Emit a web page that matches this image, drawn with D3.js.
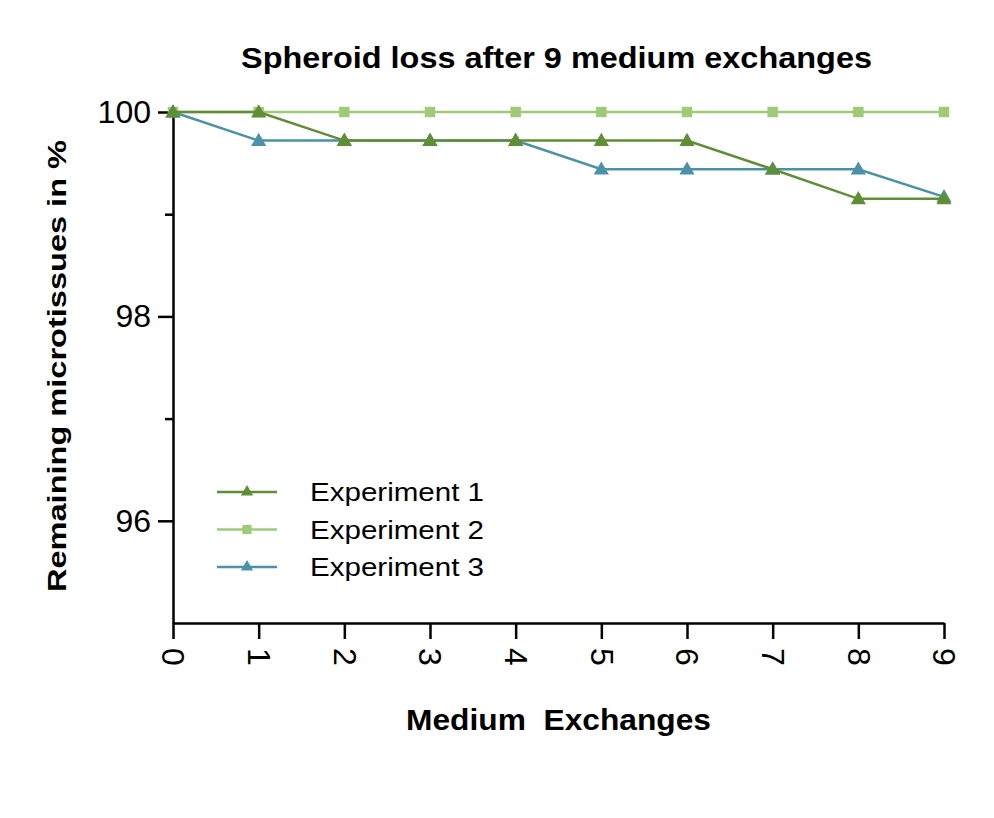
<!DOCTYPE html>
<html lang="en">
<head>
<meta charset="utf-8">
<script src="https://d3js.org/d3.v7.min.js"></script>
<title>Spheroid loss</title>
<style>
  body { margin: 0; background: #fff; }
</style>
</head>
<body>
<script type="text/javascript">

  // data
  var exchanges = [0, 1, 2, 3, 4, 5, 6, 7, 8, 9];
  var exp1 = [100, 100, 99.72, 99.72, 99.72, 99.72, 99.72, 99.44, 99.15, 99.15];
  var exp2 = [100, 100, 100, 100, 100, 100, 100, 100, 100, 100];
  var exp3 = [100, 99.72, 99.72, 99.72, 99.72, 99.44, 99.44, 99.44, 99.44, 99.17];
  var seriesNames = ["Experiment 1", "Experiment 2", "Experiment 3"];
  var yMajorTicks = [96, 98, 100];
  var yMinorTicks = [97, 99];

  var series = [
    {name: seriesNames[0], values: exp1, color: "#5f8e35", shape: "triangle"},
    {name: seriesNames[1], values: exp2, color: "#9fcb79", shape: "square"},
    {name: seriesNames[2], values: exp3, color: "#4a92a8", shape: "triangle"}
  ];

  var width = 994, height = 818;
  var font = "Liberation Sans, Arial, sans-serif";

  var svg = d3.select("body").append("svg")
    .attr("width", width)
    .attr("height", height);

  var x = d3.scaleLinear().domain([0, 9]).range([173, 944]);
  var y = d3.scaleLinear().domain([95, 100]).range([623, 112]);

  // y axis
  var yAxis = svg.append("g")
    .attr("transform", "translate(173,0)")
    .call(d3.axisLeft(y).tickValues(yMajorTicks).tickFormat(d3.format("d"))
      .tickSize(15).tickPadding(7).tickSizeOuter(0));
  yAxis.select(".domain").attr("stroke", "#000").attr("stroke-width", 2.5);
  yAxis.selectAll(".tick line").attr("stroke", "#000").attr("stroke-width", 2.5);
  yAxis.selectAll(".tick text")
    .attr("font-family", font)
    .attr("font-size", 32)
    .attr("fill", "#000");

  var yMinor = svg.append("g")
    .attr("transform", "translate(173,0)")
    .call(d3.axisLeft(y).tickValues(yMinorTicks).tickSize(8).tickFormat(""));
  yMinor.select(".domain").remove();
  yMinor.selectAll(".tick line").attr("stroke", "#000").attr("stroke-width", 2.5);

  // x axis
  var xAxis = svg.append("g")
    .attr("transform", "translate(0,623)")
    .call(d3.axisBottom(x).tickValues(exchanges).tickSize(16).tickSizeOuter(0));
  xAxis.select(".domain").attr("stroke", "#000").attr("stroke-width", 2.5);
  xAxis.selectAll(".tick line").attr("stroke", "#000").attr("stroke-width", 2.5);
  xAxis.selectAll(".tick text")
    .attr("font-family", font)
    .attr("font-size", 32)
    .attr("fill", "#000")
    .attr("text-anchor", "start")
    .attr("transform", "rotate(90)")
    .attr("x", 25)
    .attr("y", 0)
    .attr("dy", "0.35em");

  // lines and markers
  var line = d3.line()
    .x(function(d, i) { return x(exchanges[i]); })
    .y(function(d) { return y(d); });

  var triangle = d3.symbol().type(d3.symbolTriangle).size(100);
  var square = d3.symbol().type(d3.symbolSquare).size(110);

  // draw Exp 2 first, then 3, then 1 on top
  var order = [1, 2, 0];
  order.forEach(function(k) {
    var s = series[k];
    svg.append("path")
      .datum(s.values)
      .attr("fill", "none")
      .attr("stroke", s.color)
      .attr("stroke-width", 2.5)
      .attr("d", line);

    svg.append("g").selectAll("path")
      .data(s.values)
      .enter().append("path")
      .attr("transform", function(d, i) {
        return "translate(" + x(exchanges[i]) + "," + (y(d) + (s.shape == "triangle" ? 1 : 0)) + ")";
      })
      .attr("d", s.shape == "triangle" ? triangle : square)
      .attr("fill", s.color);
  });

  // legend
  var legend = svg.append("g");
  series.forEach(function(s, i) {
    var ly = 492 + i * 37.5;
    legend.append("line")
      .attr("x1", 217).attr("x2", 277)
      .attr("y1", ly).attr("y2", ly)
      .attr("stroke", s.color)
      .attr("stroke-width", 2.5);
    legend.append("path")
      .attr("transform", "translate(247," + ly + ")")
      .attr("d", s.shape == "triangle" ? d3.symbol().type(d3.symbolTriangle).size(65) : d3.symbol().type(d3.symbolSquare).size(85))
      .attr("fill", s.color);
    legend.append("text")
      .attr("x", 310)
      .attr("y", ly)
      .attr("dy", "0.36em")
      .attr("font-family", font)
      .attr("font-size", 25)
      .attr("textLength", 174)
      .attr("lengthAdjust", "spacingAndGlyphs")
      .attr("fill", "#000")
      .text(s.name);
  });

  // title
  svg.append("text")
    .attr("x", 241)
    .attr("y", 68)
    .attr("font-family", font)
    .attr("font-weight", "bold")
    .attr("font-size", 30)
    .attr("textLength", 631)
    .attr("lengthAdjust", "spacingAndGlyphs")
    .attr("fill", "#000")
    .text("Spheroid loss after 9 medium exchanges");

  // x axis title
  svg.append("text")
    .attr("x", 406)
    .attr("y", 730)
    .attr("font-family", font)
    .attr("font-weight", "bold")
    .attr("font-size", 29)
    .attr("textLength", 305)
    .attr("lengthAdjust", "spacingAndGlyphs")
    .attr("xml:space", "preserve")
    .attr("fill", "#000")
    .text("Medium  Exchanges");

  // y axis title
  svg.append("text")
    .attr("transform", "translate(66,592) rotate(-90)")
    .attr("font-family", font)
    .attr("font-weight", "bold")
    .attr("font-size", 25)
    .attr("textLength", 452)
    .attr("lengthAdjust", "spacingAndGlyphs")
    .attr("fill", "#000")
    .text("Remaining microtissues in %");

</script>
</body>
</html>
